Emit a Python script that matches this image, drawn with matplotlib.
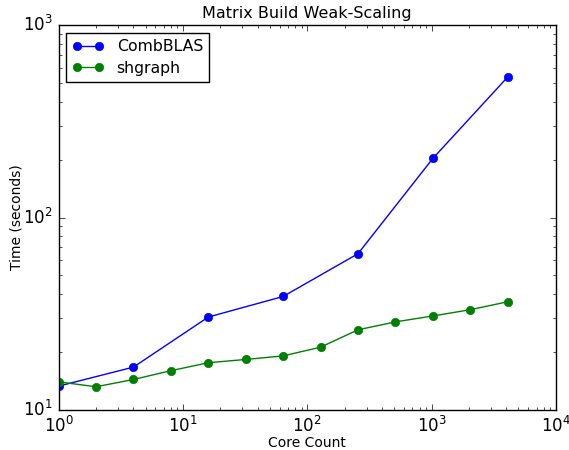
import matplotlib
matplotlib.use("Agg")
import matplotlib.pyplot as plt

plt.style.use('classic')

comb_x = [1, 4, 16, 64, 256, 1024, 4096]
comb_y = [13.3, 16.7, 30.4, 38.9, 64.9, 203, 538]
sh_x = [1, 2, 4, 8, 16, 32, 64, 128, 256, 512, 1024, 2048, 4096]
sh_y = [14.0, 13.2, 14.4, 16.0, 17.6, 18.3, 19.1, 21.2, 26.1, 28.7, 30.8, 33.2, 36.5]

fig = plt.figure(figsize=(5.69, 4.5), dpi=100, facecolor='white')
ax = fig.add_axes([0.103, 0.089, 0.874, 0.855])
ax.plot(comb_x, comb_y, 'o-', color='b', label='CombBLAS', markeredgecolor='b')
ax.plot(sh_x, sh_y, 'o-', color='g', label='shgraph', markeredgecolor='g')
ax.set_xscale('log')
ax.set_yscale('log')
ax.set_xlim(1, 1e4)
ax.set_ylim(10, 1000)
ax.set_title('Matrix Build Weak-Scaling', fontsize=11.5)
ax.set_xlabel('Core Count', fontsize=10, labelpad=0)
ax.set_ylabel('Time (seconds)', fontsize=10, labelpad=0)
ax.legend(loc='upper left', fontsize=11.3, numpoints=2, labelspacing=0.4)
fig.savefig('out.png', dpi=100, facecolor='white')
